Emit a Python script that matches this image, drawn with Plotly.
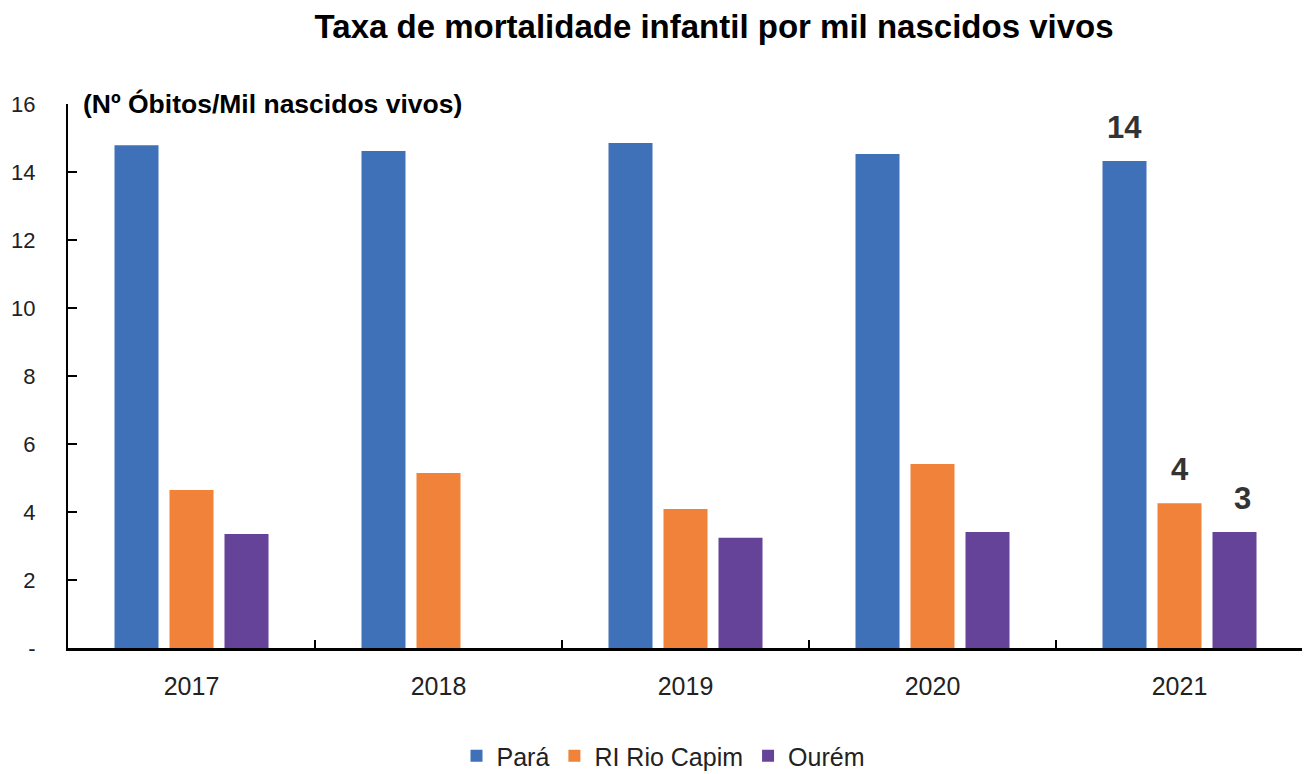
import plotly.graph_objects as go

years = ["2017", "2018", "2019", "2020", "2021"]
para = [14.79, 14.62, 14.85, 14.53, 14.32]
rio_capim = [4.65, 5.15, 4.09, 5.41, 4.26]
ourem = [3.35, None, 3.24, 3.41, 3.41]
series_names = ["Pará", "RI Rio Capim", "Ourém"]
colors = ["#3F71B8", "#F0823A", "#654398"]
y_tickvals = [0, 2, 4, 6, 8, 10, 12, 14, 16]
y_ticktext = ["-", "2", "4", "6", "8", "10", "12", "14", "16"]
labeled_year = "2021"

FONT = "Liberation Sans, Arial, sans-serif"
BARGAP = 0.332
PLOT_W = 1235

fig = go.Figure()
for name, vals, col in zip(series_names, [para, rio_capim, ourem], colors):
    fig.add_trace(go.Bar(x=years, y=vals, name=name, marker_color=col,
                         marker_line_width=0))

# data labels for the last year (category index used for the annotation x)
slot = PLOT_W / 5 * (1 - BARGAP) / 3
label_nudge = [0, 0, 8]
li = years.index(labeled_year)
for k, vals in enumerate([para, rio_capim, ourem]):
    v = vals[li]
    fig.add_annotation(x=li, y=v, xref="x", yref="y",
                       text=f"{v:.0f}", showarrow=False, yanchor="bottom",
                       xshift=(k - 1) * slot + label_nudge[k], yshift=14,
                       font=dict(family=FONT, size=31, color="#333333", weight="bold"))

fig.add_annotation(x=0, y=1, xref="paper", yref="paper", xanchor="left", yanchor="middle",
                   xshift=13, text="(Nº Óbitos/Mil nascidos vivos)", showarrow=False,
                   font=dict(family=FONT, size=26.5, color="#000000", weight="bold"))

fig.update_layout(
    width=1310, height=774,
    paper_bgcolor="white", plot_bgcolor="white",
    margin=dict(l=60, r=15, t=96, b=134, autoexpand=False),
    barmode="group", bargap=BARGAP, bargroupgap=0.2,
    title=dict(text="Taxa de mortalidade infantil por mil nascidos vivos",
               x=0.539, xanchor="center", y=1 - 18 / 774, yanchor="middle",
               font=dict(family=FONT, size=33, color="#000000", weight="bold")),
    legend=dict(orientation="h", xref="container", yref="container",
                x=0.5, xanchor="center", y=1 - 748 / 774, yanchor="middle",
                font=dict(family=FONT, size=25, color="#222222"),
                tracegroupgap=0),
    showlegend=True,
)
fig.update_xaxes(type="category", range=[-0.5, 4.5], showline=True, linecolor="black", linewidth=3,
                 ticks="inside", tickson="boundaries", ticklen=8, tickwidth=2, tickcolor="black",
                 tickfont=dict(family=FONT, size=25, color="#222222"),
                 ticklabelstandoff=14, showgrid=False, zeroline=False, automargin=False)
fig.update_yaxes(range=[0, 16], showline=True, linecolor="black", linewidth=2,
                 tickvals=y_tickvals, ticktext=y_ticktext,
                 ticks="inside", ticklen=9, tickwidth=1.5, tickcolor="black",
                 tickfont=dict(family=FONT, size=22, color="#222222"),
                 ticklabelstandoff=26, showgrid=False, zeroline=False, automargin=False)

fig.write_html("out.html")
